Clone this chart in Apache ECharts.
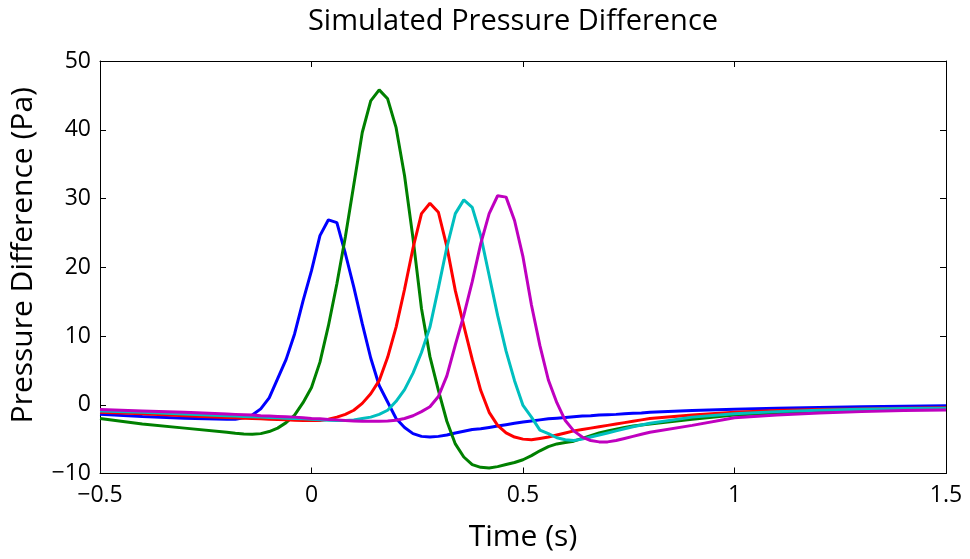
<!DOCTYPE html>
<html>
<head>
<meta charset="utf-8">
<script src="https://cdn.jsdelivr.net/npm/echarts@6/dist/echarts.min.js"></script>
<style>html,body{margin:0;padding:0;background:#fff}#c{width:970px;height:559px}</style>
</head>
<body>
<div id="c"></div>
<script>
const time = [-0.5,-0.4,-0.3,
 -0.2,-0.18,-0.16,-0.14,-0.12,-0.10,-0.08,-0.06,-0.04,-0.02,
 0,0.02,0.04,0.06,0.08,0.10,0.12,0.14,0.16,0.18,
 0.20,0.22,0.24,0.26,0.28,0.30,0.32,0.34,0.36,0.38,
 0.40,0.42,0.44,0.46,0.48,0.50,0.52,0.54,0.56,0.58,
 0.60,0.62,0.64,0.66,0.68,0.70,0.72,0.74,0.76,0.78,0.80,
 0.9,1.0,1.1,1.2,1.3,1.4,1.5];

const blue = [-1.4,-1.7,-1.95,
 -2.1,-2.1,-1.9,-1.5,-0.6,1.0,3.8,6.6,10.3,15.1,
 19.5,24.6,26.9,26.5,22.0,17.1,11.8,6.8,2.8,0.4,
 -2.0,-3.3,-4.2,-4.6,-4.7,-4.6,-4.4,-4.1,-3.85,-3.6,
 -3.5,-3.3,-3.1,-2.9,-2.7,-2.5,-2.35,-2.2,-2.05,-1.95,
 -1.85,-1.75,-1.65,-1.6,-1.5,-1.45,-1.4,-1.3,-1.25,-1.2,-1.1,
 -0.85,-0.65,-0.5,-0.4,-0.3,-0.22,-0.15];

const green = [-2.0,-2.8,-3.4,
 -4.0,-4.15,-4.25,-4.3,-4.2,-3.9,-3.4,-2.6,-1.5,0.3,
 2.5,6.2,11.5,17.6,24.4,32.0,39.6,44.2,45.8,44.5,
 40.3,33.3,24.2,14.0,7.0,2.1,-2.4,-5.7,-7.6,-8.7,
 -9.1,-9.2,-9.0,-8.7,-8.4,-8.0,-7.4,-6.7,-6.1,-5.7,
 -5.5,-5.3,-4.9,-4.5,-4.1,-3.8,-3.55,-3.3,-3.1,-2.95,-2.8,
 -2.1,-1.5,-1.2,-0.95,-0.8,-0.7,-0.6];

const red = [-1.1,-1.3,-1.6,
 -1.85,-1.9,-1.95,-2.0,-2.05,-2.1,-2.15,-2.2,-2.25,-2.3,
 -2.3,-2.3,-2.1,-1.8,-1.4,-0.8,0.2,1.6,3.5,6.9,
 11.3,16.8,22.8,27.8,29.3,28.0,23.0,16.6,11.5,6.6,
 2.1,-1.1,-3.0,-4.1,-4.7,-5.0,-5.1,-4.9,-4.7,-4.4,
 -4.1,-3.8,-3.6,-3.4,-3.2,-3.0,-2.8,-2.6,-2.4,-2.2,-2.0,
 -1.5,-1.1,-0.85,-0.7,-0.6,-0.5,-0.45];

const cyan = [-0.9,-1.1,-1.35,
 -1.6,-1.65,-1.7,-1.75,-1.8,-1.85,-1.9,-1.95,-2.0,-2.05,
 -2.1,-2.2,-2.25,-2.3,-2.3,-2.2,-2.0,-1.8,-1.4,-0.8,
 0.5,2.2,4.6,7.6,11.3,17.0,22.9,27.8,29.8,28.7,
 24.6,18.8,13.0,7.8,3.5,-0.1,-1.8,-3.7,-4.2,-4.8,
 -5.1,-5.2,-5.0,-4.7,-4.4,-4.1,-3.8,-3.5,-3.2,-2.95,-2.7,
 -1.8,-1.3,-1.0,-0.8,-0.65,-0.55,-0.5];

const magenta = [-0.7,-0.9,-1.1,
 -1.35,-1.4,-1.45,-1.5,-1.6,-1.65,-1.7,-1.75,-1.8,-1.9,
 -2.0,-2.05,-2.15,-2.2,-2.3,-2.35,-2.4,-2.4,-2.4,-2.35,
 -2.25,-2.0,-1.6,-1.0,-0.3,1.2,4.2,8.7,13.0,17.9,
 23.4,27.8,30.4,30.2,26.8,21.5,14.5,8.6,3.6,0.3,
 -2.3,-3.8,-4.7,-5.2,-5.4,-5.4,-5.2,-4.9,-4.6,-4.3,-4.0,
 -3.0,-1.9,-1.5,-1.2,-1.0,-0.85,-0.75];

const xTicks = [-0.5, 0, 0.5, 1, 1.5];
const yTicks = [-10, 0, 10, 20, 30, 40, 50];

const seriesList = [
  {name:'S1', values: blue, color:'#0000FF'},
  {name:'S2', values: green, color:'#008000'},
  {name:'S3', values: red, color:'#FF0000'},
  {name:'S4', values: cyan, color:'#00BFBF'},
  {name:'S5', values: magenta, color:'#BF00BF'}
];

const fmt = v => (v < 0 ? '\u2212' + String(-v) : String(v));
const FONT = '"Open Sans", "Noto Sans", sans-serif';

const chart = echarts.init(document.getElementById('c'), null, {renderer:'canvas'});
const axisCommon = {
  axisLine: {show: true, onZero: false, lineStyle: {color: '#000', width: 1}},
  axisTick: {show: true, inside: true, length: 6, lineStyle: {color: '#000', width: 1}},
  splitLine: {show: false}
};
chart.setOption({
  animation: false,
  backgroundColor: '#fff',
  title: {
    text: 'Simulated Pressure Difference',
    left: 508, top: 2, textAlign: 'center',
    textStyle: {fontFamily: FONT, fontSize: 29, fontWeight: 'normal', color: '#000'}
  },
  grid: {left: 98.5, right: 24, top: 61, bottom: 85.5, containLabel: false},
  xAxis: [
    Object.assign({
      type: 'value', position: 'bottom', min: -0.5, max: 1.5, interval: 0.5,
      name: 'Time (s)', nameLocation: 'middle', nameGap: 49,
      nameTextStyle: {fontFamily: FONT, fontSize: 30, color: '#000'},
      axisLabel: {fontFamily: FONT, fontSize: 23, color: '#000', margin: 10, formatter: fmt}
    }, axisCommon),
    Object.assign({
      type: 'value', position: 'top', min: -0.5, max: 1.5, interval: 0.5,
      axisLabel: {show: false}
    }, axisCommon)
  ],
  yAxis: [
    Object.assign({
      type: 'value', position: 'left', min: -10, max: 50, interval: 10,
      name: 'Pressure Difference (Pa)', nameLocation: 'middle', nameGap: 62, nameRotate: 90,
      nameTextStyle: {fontFamily: FONT, fontSize: 30, color: '#000', padding: [0, 0, 0, 24]},
      axisLabel: {fontFamily: FONT, fontSize: 23, color: '#000', margin: 9, formatter: fmt}
    }, axisCommon),
    Object.assign({
      type: 'value', position: 'right', min: -10, max: 50, interval: 10,
      axisLabel: {show: false}
    }, axisCommon)
  ],
  series: seriesList.map(s => ({
    name: s.name,
    type: 'line',
    xAxisIndex: 0, yAxisIndex: 0,
    data: time.map((t, i) => [t, s.values[i]]),
    showSymbol: false,
    smooth: false,
    lineStyle: {color: s.color, width: 3},
    itemStyle: {color: s.color},
    clip: true
  }))
});
</script>
</body>
</html>
